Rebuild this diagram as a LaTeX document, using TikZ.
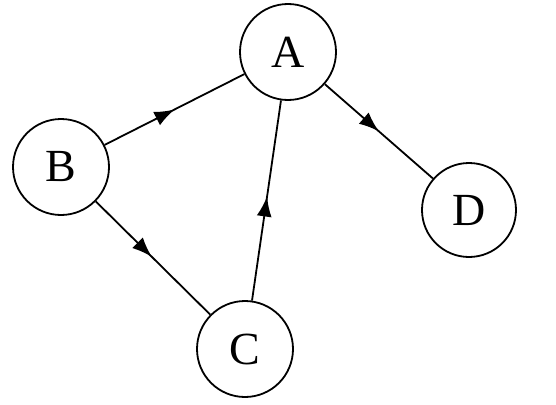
\documentclass[tikz,border=0pt]{standalone}
\usepackage{fontspec}
\setmainfont{Liberation Serif}
\usetikzlibrary{decorations.markings,arrows.meta}
\begin{document}
\begin{tikzpicture}[x=1pt,y=-1pt,
  vertex/.style={circle,draw,line width=1.8pt,minimum size=96pt,inner sep=0pt,
    font=\fontsize{46}{50}\selectfont},
  edge/.style={line width=1.8pt,postaction={decorate},
    decoration={markings,mark=at position #1 with {\arrow[line width=1.8pt]{Latex[length=20pt,width=15pt]}}}},
  edge/.default=0.5]
\useasboundingbox (0,0) rectangle (556,404);
\node[vertex] (A) at (288,52) {A};
\node[vertex] (B) at (61,167) {B};
\node[vertex] (C) at (245,349) {C};
\node[vertex,minimum size=94pt] (D) at (469,210) {D};
\draw[edge=0.5] (B) -- (A);
\draw[edge=0.49] (B) -- (C);
\draw[edge=0.52] (C) -- (A);
\draw[edge=0.5] (A) -- (D);
\end{tikzpicture}
\end{document}
